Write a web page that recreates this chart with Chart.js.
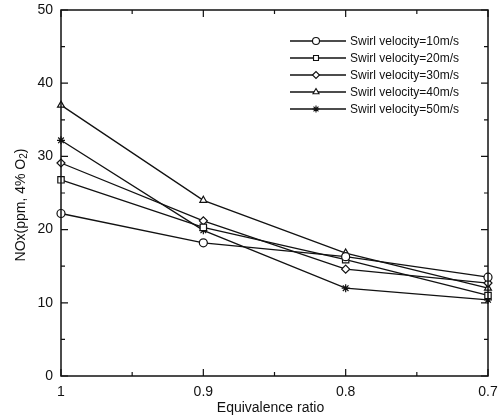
<!DOCTYPE html>
<html>
<head>
<meta charset="utf-8">
<script src="https://cdn.jsdelivr.net/npm/chart.js@4/dist/chart.umd.min.js"></script>
<style>
  html, body { margin: 0; padding: 0; background: #fff; }
  #wrap { width: 503px; height: 420px; }
</style>
</head>
<body>
<div id="wrap"><canvas id="noxChart"></canvas></div>
<script>
// Data
const ratios = [1, 0.9, 0.8, 0.7];
const v10 = [22.2, 18.2, 16.3, 13.5];
const v20 = [26.8, 20.3, 15.9, 11.0];
const v30 = [29.1, 21.2, 14.6, 12.7];
const v40 = [37.0, 24.0, 16.8, 12.0];
const v50 = [32.2, 19.9, 12.0, 10.4];
const seriesLabels = ['Swirl velocity=10m/s', 'Swirl velocity=20m/s', 'Swirl velocity=30m/s', 'Swirl velocity=40m/s', 'Swirl velocity=50m/s'];
const markers = ['circle', 'rect', 'rectRot', 'triangle', 'star'];
const xTicks = [1, 0.9, 0.8, 0.7];
const yTicks = [0, 10, 20, 30, 40, 50];

const FONT = '"Liberation Sans", Arial, sans-serif';

function makeSet(label, values, style) {
    return {
        label: label,
        data: ratios.map((r, i) => ({ x: r, y: values[i] })),
        borderColor: '#111',
        borderWidth: 1.3,
        backgroundColor: '#fff',
        pointStyle: style,
        pointRadius: style === 'rect' ? 4.5 : 4,
        pointBorderColor: '#111',
        pointBackgroundColor: '#fff',
        pointBorderWidth: 1.2,
        tension: 0,
        clip: false
    };
}

// Frame, inward ticks, labels, titles and legend
const framePlugin = {
    id: 'frame',
    afterDraw(chart) {
        const ctx = chart.ctx;
        const xs = chart.scales.x, ys = chart.scales.y;
        const a = chart.chartArea;
        ctx.save();
        ctx.strokeStyle = '#111';
        ctx.lineWidth = 1.5;
        ctx.strokeRect(a.left, a.top, a.right - a.left, a.bottom - a.top);

        ctx.lineWidth = 1.2;
        // y ticks (major every 10, minor every 5)
        for (let v = 0; v <= 50; v += 5) {
            const py = ys.getPixelForValue(v);
            const len = v % 10 === 0 ? 7 : 4;
            ctx.beginPath();
            ctx.moveTo(a.left, py); ctx.lineTo(a.left + len, py);
            ctx.moveTo(a.right, py); ctx.lineTo(a.right - len, py);
            ctx.stroke();
        }
        // x ticks (major every 0.1, minor every 0.05)
        for (let k = 0; k <= 6; k++) {
            const v = 0.7 + k * 0.05;
            const px = xs.getPixelForValue(v);
            const len = k % 2 === 0 ? 7 : 4;
            ctx.beginPath();
            ctx.moveTo(px, a.bottom); ctx.lineTo(px, a.bottom - len);
            ctx.moveTo(px, a.top); ctx.lineTo(px, a.top + len);
            ctx.stroke();
        }

        // tick labels
        ctx.fillStyle = '#111';
        ctx.font = '14px ' + FONT;
        ctx.textAlign = 'right';
        ctx.textBaseline = 'middle';
        yTicks.forEach(v => ctx.fillText(String(v), a.left - 8, ys.getPixelForValue(v)));
        ctx.textAlign = 'center';
        ctx.textBaseline = 'top';
        xTicks.forEach(v => ctx.fillText(String(v), xs.getPixelForValue(v), a.bottom + 9));

        // axis titles
        ctx.font = '14px ' + FONT;
        ctx.fillText('Equivalence ratio', (a.left + a.right) / 2 - 4, a.bottom + 25);

        ctx.save();
        ctx.translate(21, 205);
        ctx.rotate(-Math.PI / 2);
        ctx.textBaseline = 'middle';
        ctx.textAlign = 'left';
        const t1 = 'NOx(ppm, 4% O';
        const w1 = ctx.measureText(t1).width;
        ctx.font = '10px ' + FONT;
        const w2 = ctx.measureText('2').width;
        ctx.font = '14px ' + FONT;
        const w3 = ctx.measureText(')').width;
        let x0 = -(w1 + w2 + w3) / 2;
        ctx.fillText(t1, x0, 0);
        ctx.font = '10px ' + FONT;
        ctx.fillText('2', x0 + w1, 3);
        ctx.font = '14px ' + FONT;
        ctx.fillText(')', x0 + w1 + w2, 0);
        ctx.restore();

        // legend
        ctx.font = '12px ' + FONT;
        ctx.textAlign = 'left';
        ctx.textBaseline = 'middle';
        chart.data.datasets.forEach((ds, i) => {
            const ly = 41 + i * 17;
            ctx.strokeStyle = '#111';
            ctx.lineWidth = 1.3;
            ctx.beginPath();
            ctx.moveTo(290, ly); ctx.lineTo(346, ly);
            ctx.stroke();
            ctx.fillStyle = '#fff';
            ctx.lineWidth = 1.1;
            Chart.helpers.drawPoint(ctx, {
                pointStyle: ds.pointStyle,
                radius: 3.5,
                rotation: 0,
                borderWidth: 1.1
            }, 316, ly);
            ctx.fillStyle = '#111';
            ctx.fillText(ds.label, 350, ly + 1);
        });
        ctx.restore();
    }
};

function initNoxChart() {
    const ctx = document.getElementById('noxChart').getContext('2d');
    new Chart(ctx, {
        type: 'line',
        data: {
            datasets: [
                makeSet(seriesLabels[0], v10, markers[0]),
                makeSet(seriesLabels[1], v20, markers[1]),
                makeSet(seriesLabels[2], v30, markers[2]),
                makeSet(seriesLabels[3], v40, markers[3]),
                makeSet(seriesLabels[4], v50, markers[4])
            ]
        },
        options: {
            responsive: true,
            maintainAspectRatio: false,
            animation: false,
            layout: { padding: { left: 61, top: 10, right: 15, bottom: 44 } },
            plugins: {
                legend: { display: false },
                tooltip: { enabled: false }
            },
            scales: {
                x: { type: 'linear', reverse: true, min: 0.7, max: 1, display: false },
                y: { type: 'linear', min: 0, max: 50, display: false }
            }
        },
        plugins: [framePlugin]
    });
}

document.addEventListener('DOMContentLoaded', initNoxChart);
</script>
</body>
</html>
